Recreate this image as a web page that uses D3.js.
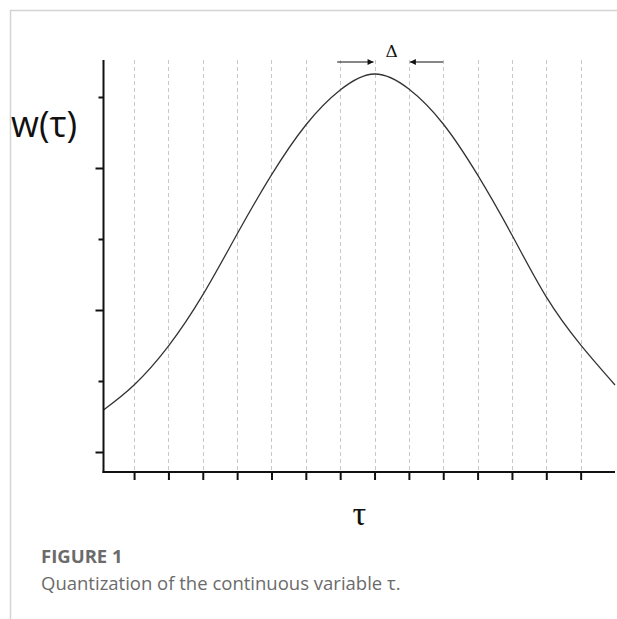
<!DOCTYPE html>
<html>
<head>
<meta charset="utf-8">
<script src="https://cdn.jsdelivr.net/npm/d3@7"></script>
<style>
  html, body { margin: 0; padding: 0; background: #fff; }
  svg { display: block; }
</style>
</head>
<body>
<svg id="chart" width="617" height="619"></svg>
<script>
// ---- data ----
const tauPositions = [0.11, 1, 2, 3, 4, 5, 6, 7, 8, 9, 10, 11, 12, 13, 14, 15];
const wValues = [0.296, 0.472, 0.746, 1.106, 1.535, 1.951, 2.303, 2.549, 2.662, 2.556, 2.310, 1.951, 1.528, 1.092, 0.754, 0.472];
const xTickValues = [1, 2, 3, 4, 5, 6, 7, 8, 9, 10, 11, 12, 13, 14];
const yMajorTicks = [0, 1, 2];
const yMinorTicks = [0.5, 1.5, 2.5];
const deltaBin = [7, 9];     // neighbouring quantization lines around the peak
const peakTau = 8;
const yTitle = "w(\u03c4)";
const xTitle = "\u03c4";
const deltaLabel = "\u0394";
const figureLabel = "FIGURE 1";
const captionText = "Quantization of the continuous variable \u03c4.";

// ---- layout ----
const svg = d3.select("#chart");
const x = d3.scaleLinear().domain([0.11, 15]).range([103.5, 615]);
const y = d3.scaleLinear().domain([0, 2]).range([452, 168]);
const yBottom = 472, yTop = 60;

// frame lines (page border)
svg.append("line").attr("x1", 10).attr("x2", 617).attr("y1", 10.5).attr("y2", 10.5)
  .attr("stroke", "#d4d4d4").attr("stroke-width", 1.5);
svg.append("line").attr("x1", 10.5).attr("x2", 10.5).attr("y1", 10).attr("y2", 619)
  .attr("stroke", "#d4d4d4").attr("stroke-width", 1.5);

// dashed quantization lines
svg.append("g").selectAll("line").data(xTickValues).join("line")
  .attr("x1", d => Math.round(x(d)) + 0.5).attr("x2", d => Math.round(x(d)) + 0.5)
  .attr("y1", yTop).attr("y2", yBottom)
  .attr("stroke", "#c8c8c8").attr("stroke-width", 1).attr("stroke-dasharray", "4,3");

// curve
const line = d3.line().x((d, i) => x(tauPositions[i])).y(d => y(d)).curve(d3.curveNatural);
svg.append("path").datum(wValues).attr("d", line)
  .attr("fill", "none").attr("stroke", "#333").attr("stroke-width", 1.3);

// x axis
const xAxis = d3.axisBottom(x).tickValues(xTickValues).tickSizeInner(8).tickSizeOuter(0).tickFormat("");
const gx = svg.append("g").attr("transform", `translate(0,${yBottom})`).call(xAxis);
gx.select(".domain").remove();
svg.append("line").attr("x1", x(0.11) - 1).attr("x2", 615).attr("y1", yBottom).attr("y2", yBottom)
  .attr("stroke", "#111").attr("stroke-width", 2);

// y axis
const gyMaj = svg.append("g").attr("transform", `translate(${x(0.11)},0)`)
  .call(d3.axisLeft(y).tickValues(yMajorTicks).tickSizeInner(8).tickSizeOuter(0).tickFormat(""));
gyMaj.select(".domain").remove();
const gyMin = svg.append("g").attr("transform", `translate(${x(0.11)},0)`)
  .call(d3.axisLeft(y).tickValues(yMinorTicks).tickSizeInner(5).tickSizeOuter(0).tickFormat(""));
gyMin.select(".domain").remove();
svg.selectAll(".tick line").attr("stroke", "#111").attr("stroke-width", 2);
svg.append("line").attr("x1", x(0.11)).attr("x2", x(0.11)).attr("y1", yTop).attr("y2", yBottom + 1)
  .attr("stroke", "#111").attr("stroke-width", 2);

// Δ annotation arrows
const arrowY = 62;
const defs = svg.append("defs");
defs.append("marker").attr("id", "ah").attr("viewBox", "0 0 10 10").attr("refX", 10).attr("refY", 5)
  .attr("markerWidth", 10).attr("markerHeight", 6).attr("markerUnits", "userSpaceOnUse").attr("orient", "auto")
  .append("path").attr("d", "M0,0 L10,5 L0,10 Z").attr("fill", "#111");
svg.append("line").attr("x1", x(deltaBin[0]) - 3).attr("x2", x(peakTau) - 1).attr("y1", arrowY).attr("y2", arrowY)
  .attr("stroke", "#111").attr("stroke-width", 1).attr("marker-end", "url(#ah)");
svg.append("line").attr("x1", x(deltaBin[1] + 1)).attr("x2", x(deltaBin[1]) + 1).attr("y1", arrowY).attr("y2", arrowY)
  .attr("stroke", "#111").attr("stroke-width", 1).attr("marker-end", "url(#ah)");
svg.append("text").attr("x", (x(peakTau) + x(deltaBin[1])) / 2).attr("y", 57)
  .attr("text-anchor", "middle").attr("font-family", "DejaVu Serif, Liberation Serif, serif")
  .attr("font-size", 17).attr("fill", "#111").text(deltaLabel);

// axis titles
svg.append("text").attr("x", 11).attr("y", 137)
  .attr("font-family", "Open Sans, DejaVu Sans, sans-serif").attr("font-size", 36).attr("fill", "#111")
  .text(yTitle);
svg.append("text").attr("x", (x(0.11) + 615) / 2).attr("y", 525).attr("text-anchor", "middle")
  .attr("font-family", "Liberation Serif, DejaVu Serif, serif").attr("font-size", 34).attr("fill", "#111")
  .text(xTitle);

// caption
svg.append("text").attr("x", 41).attr("y", 563)
  .attr("font-family", "Open Sans, Lato, sans-serif").attr("font-size", 18.5).attr("font-weight", "bold")
  .attr("fill", "#6b6b6b").text(figureLabel);
svg.append("text").attr("x", 41).attr("y", 589.5)
  .attr("font-family", "Open Sans, Lato, sans-serif").attr("font-size", 18.5)
  .attr("fill", "#6b6b6b").text(captionText);
</script>
</body>
</html>
